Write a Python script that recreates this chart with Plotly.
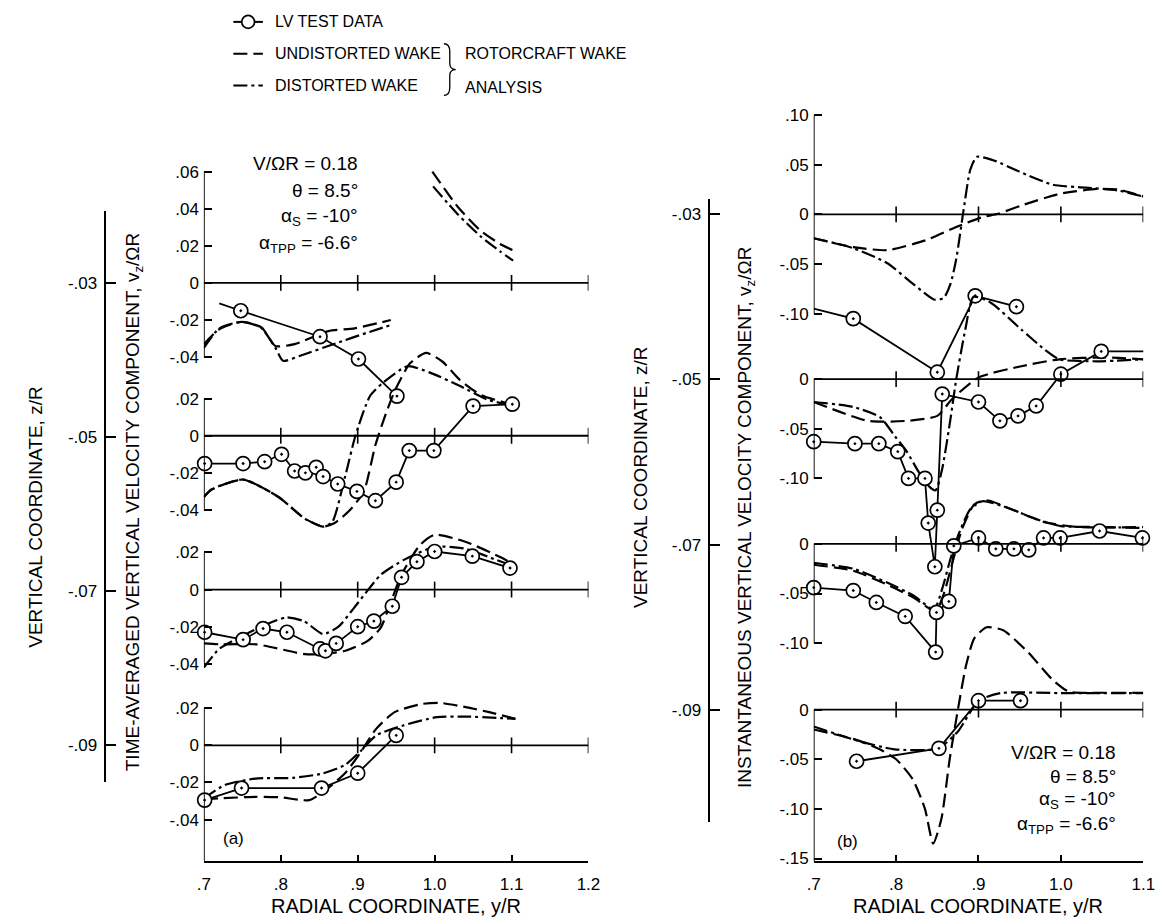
import plotly.graph_objects as go

W, H = 1163, 924
FONT = "Liberation Sans"
BLACK = "black"

# ------------------------------------------------------------------ DATA
# Panel (a): time-averaged vz/OmegaR at four planes z/R
a_planes = [-0.03, -0.05, -0.07, -0.09]
a_xticks = [0.7, 0.8, 0.9, 1.0, 1.1, 1.2]
a_xticktext = [".7", ".8", ".9", "1.0", "1.1", "1.2"]

# z/R = -0.03
a1_lv_lead_x = [0.72]
a1_lv_lead_y = [-0.011]
a1_lv_x = [0.748, 0.851, 0.901, 0.951]
a1_lv_y = [-0.015, -0.029, -0.041, -0.061]
a1_und_x = [0.70, 0.72, 0.749, 0.775, 0.793, 0.818, 0.862, 0.896, 0.943]
a1_und_y = [-0.033, -0.025, -0.021, -0.024, -0.034, -0.033, -0.026, -0.0245, -0.020]
a1_dis_x = [0.70, 0.72, 0.749, 0.774, 0.793, 0.803, 0.827, 0.872, 0.911, 0.943]
a1_dis_y = [-0.035, -0.0245, -0.021, -0.024, -0.035, -0.042, -0.039, -0.0325, -0.027, -0.0227]
a1_und_hi_x = [0.997, 1.03, 1.06, 1.085, 1.105]
a1_und_hi_y = [0.060, 0.041, 0.028, 0.021, 0.017]
a1_dis_hi_x = [0.998, 1.03, 1.06, 1.085, 1.102]
a1_dis_hi_y = [0.052, 0.037, 0.025, 0.017, 0.012]

# z/R = -0.05
a2_lv_x = [0.701, 0.751, 0.779, 0.801, 0.818, 0.832, 0.846, 0.855, 0.874, 0.899,
           0.923, 0.950, 0.967, 0.999, 1.050, 1.101]
a2_lv_y = [-0.015, -0.015, -0.014, -0.010, -0.019, -0.020, -0.017, -0.022, -0.026, -0.030,
           -0.035, -0.025, -0.008, -0.008, 0.016, 0.017]
a2_und_x = [0.70, 0.71, 0.751, 0.797, 0.831, 0.855, 0.87, 0.89, 0.908, 0.923, 0.935,
            0.948, 0.968, 0.989, 1.01, 1.033, 1.06, 1.09, 1.10]
a2_und_y = [-0.033, -0.029, -0.0236, -0.033, -0.0446, -0.049, -0.047, -0.040, -0.030,
            -0.005, 0.010, 0.024, 0.039, 0.0446, 0.040, 0.030, 0.022, 0.018, 0.017]
a2_dis_x = [0.70, 0.71, 0.751, 0.797, 0.831, 0.855, 0.867, 0.884, 0.897, 0.916, 0.933,
            0.965, 0.994, 1.033, 1.068, 1.092]
a2_dis_y = [-0.033, -0.029, -0.0236, -0.033, -0.0446, -0.049, -0.0464, -0.0214, 0.0,
            0.0214, 0.0286, 0.0375, 0.034, 0.0268, 0.0196, 0.017]

# z/R = -0.07
a3_lv_x = [0.701, 0.751, 0.777, 0.808, 0.851, 0.858, 0.872, 0.900, 0.921, 0.945, 0.957,
           0.977, 1.000, 1.049, 1.098]
a3_lv_y = [-0.023, -0.027, -0.021, -0.023, -0.032, -0.033, -0.029, -0.020, -0.017, -0.009,
           0.0066, 0.015, 0.0205, 0.018, 0.0116]
a3_und_x = [0.70, 0.72, 0.768, 0.831, 0.855, 0.884, 0.913, 0.93, 0.942, 0.957, 0.981,
            1.0, 1.039, 1.088, 1.103]
a3_und_y = [-0.029, -0.0295, -0.0295, -0.0348, -0.0348, -0.033, -0.0277, -0.0205, -0.008,
            0.008, 0.024, 0.0295, 0.0259, 0.017, 0.0134]
a3_dis_x = [0.70, 0.72, 0.75, 0.78, 0.807, 0.83, 0.855, 0.875, 0.895, 0.91, 0.93, 0.96,
            1.0, 1.04, 1.08, 1.10]
a3_dis_y = [-0.042, -0.032, -0.025, -0.019, -0.015, -0.017, -0.024, -0.020, -0.010, -0.002,
            0.008, 0.016, 0.023, 0.022, 0.016, 0.013]

# z/R = -0.09
a4_lv_x = [0.701, 0.749, 0.853, 0.900, 0.950]
a4_lv_y = [-0.0295, -0.023, -0.023, -0.015, 0.0054]
a4_und_x = [0.70, 0.719, 0.767, 0.80, 0.837, 0.861, 0.885, 0.904, 0.924, 0.948, 0.983,
            1.007, 1.042, 1.071, 1.105]
a4_und_y = [-0.029, -0.0286, -0.0277, -0.028, -0.0295, -0.0232, -0.0143, -0.0036, 0.0089,
            0.0179, 0.0223, 0.0229, 0.0205, 0.0179, 0.0143]
a4_dis_x = [0.70, 0.727, 0.767, 0.816, 0.854, 0.883, 0.904, 0.924, 0.959, 1.003, 1.042, 1.105]
a4_dis_y = [-0.0286, -0.0214, -0.0179, -0.0175, -0.0152, -0.0107, -0.003, 0.0054, 0.0107,
            0.0152, 0.0155, 0.0143]

# Panel (b): instantaneous vz/OmegaR at four planes z/R
b_planes = [-0.03, -0.05, -0.07, -0.09]
b_xticks = [0.7, 0.8, 0.9, 1.0, 1.1]
b_xticktext = [".7", ".8", ".9", "1.0", "1.1"]

# z/R = -0.03
b1_lv_lead_x = [0.70]
b1_lv_lead_y = [-0.095]
b1_lv_x = [0.748, 0.850, 0.896, 0.946]
b1_lv_y = [-0.105, -0.159, -0.082, -0.093]
b1_und_x = [0.70, 0.748, 0.789, 0.836, 0.873, 0.905, 0.924, 0.952, 0.998, 1.044, 1.07, 1.10]
b1_und_y = [-0.024, -0.033, -0.036, -0.026, -0.0127, -0.0027, 0.0007, 0.009, 0.0207,
            0.0257, 0.025, 0.018]
b1_dis_x = [0.70, 0.748, 0.789, 0.822, 0.847, 0.858, 0.866, 0.873, 0.882, 0.89, 0.898,
            0.92, 0.95, 0.99, 1.03, 1.07, 1.10]
b1_dis_y = [-0.024, -0.034, -0.049, -0.071, -0.086, -0.084, -0.07, -0.045, 0.005, 0.045,
            0.058, 0.054, 0.043, 0.030, 0.027, 0.024, 0.018]

# z/R = -0.05
b2_lv_x = [0.70, 0.750, 0.779, 0.802, 0.815, 0.835, 0.839, 0.847, 0.850, 0.856, 0.900,
           0.926, 0.948, 0.970, 1.000, 1.049, 1.101]
b2_lv_y = [-0.063, -0.065, -0.065, -0.073, -0.100, -0.100, -0.145, -0.189, -0.132, -0.015,
           -0.023, -0.042, -0.037, -0.027, 0.005, 0.028, 0.028]
b2_und_x = [0.70, 0.766, 0.813, 0.85, 0.868, 0.90, 0.952, 0.998, 1.054, 1.10]
b2_und_y = [-0.023, -0.042, -0.042, -0.037, -0.020, 0.0017, 0.013, 0.020, 0.022, 0.020]
b2_dis_x = [0.70, 0.748, 0.78, 0.799, 0.813, 0.827, 0.84, 0.848, 0.856, 0.866, 0.873,
            0.884, 0.894, 0.915, 0.952, 0.98, 0.998, 1.044, 1.10]
b2_dis_y = [-0.023, -0.028, -0.038, -0.058, -0.073, -0.093, -0.108, -0.112, -0.09, -0.04,
            0.0, 0.05, 0.083, 0.077, 0.05, 0.03, 0.02, 0.018, 0.02]

# z/R = -0.07
b3_lv_x = [0.70, 0.748, 0.776, 0.811, 0.848, 0.849, 0.864, 0.870, 0.900, 0.921, 0.943,
           0.961, 0.979, 0.999, 1.047, 1.099]
b3_lv_y = [-0.044, -0.047, -0.059, -0.073, -0.109, -0.069, -0.058, -0.002, 0.006, -0.005,
           -0.005, -0.006, 0.006, 0.006, 0.013, 0.006]
b3_und_x = [0.70, 0.748, 0.789, 0.821, 0.848, 0.858, 0.868, 0.88, 0.895, 0.91, 0.94,
            0.98, 1.02, 1.10]
b3_und_y = [-0.021, -0.027, -0.041, -0.054, -0.068, -0.05, -0.02, 0.015, 0.040, 0.044,
            0.035, 0.022, 0.017, 0.017]
b3_dis_x = [0.70, 0.748, 0.789, 0.821, 0.846, 0.856, 0.866, 0.876, 0.89, 0.905, 0.93,
            0.97, 1.0, 1.05, 1.10]
b3_dis_y = [-0.019, -0.025, -0.039, -0.052, -0.066, -0.045, -0.015, 0.01, 0.035, 0.043,
            0.038, 0.025, 0.018, 0.017, 0.016]

# z/R = -0.09
b4_lv_x = [0.752, 0.852, 0.900, 0.951]
b4_lv_y = [-0.052, -0.039, 0.009, 0.009]
b4_und_x = [0.70, 0.75, 0.78, 0.80, 0.82, 0.835, 0.845, 0.855, 0.865, 0.875, 0.885, 0.895,
            0.91, 0.93, 0.96, 0.99, 1.01, 1.05, 1.10]
b4_und_y = [-0.020, -0.030, -0.040, -0.050, -0.070, -0.100, -0.135, -0.110, -0.050, 0.000,
            0.045, 0.072, 0.083, 0.080, 0.058, 0.030, 0.018, 0.017, 0.017]
b4_dis_x = [0.70, 0.748, 0.798, 0.851, 0.875, 0.90, 0.927, 1.0, 1.10]
b4_dis_y = [-0.017, -0.030, -0.040, -0.039, -0.022, 0.009, 0.0167, 0.0167, 0.0167]

# ------------------------------------------------------------------ LAYOUT GEOMETRY (pixels)
A_X0, A_X1 = 192, 583          # x = 0.7 .. 1.2
B_X0, B_X1 = 812, 1147         # x = 0.7 .. 1.1
BOTTOM = 860
A_TOP, B_TOP = 140, 95
A_SCALE, B_SCALE = 1870.0, 1000.0   # px per unit of vz/OmegaR
A_BASE = [277, 431, 586, 743]
B_BASE = [208, 374, 540, 707]


def fx(px):
    return px / W


def fy(py):
    return 1 - py / H


def fmt(v):
    if abs(v) < 1e-12:
        return "0"
    s = f"{v:.2f}"
    return s.replace("0.", ".", 1)


tfont = dict(family=FONT, size=17, color=BLACK)
fig = go.Figure()

UND = dict(color=BLACK, width=2.2, dash="14px,6px", shape="spline", smoothing=0.6)
DIS = dict(color=BLACK, width=2.2, dash="14px,4px,3px,4px", shape="spline", smoothing=0.6)
LVL = dict(color=BLACK, width=1.8)
MK = dict(symbol="circle-dot", size=14, color="white", line=dict(color=BLACK, width=1.7))


def add_level(xa, ya, und, dis, lv_x, lv_y, lead=None):
    for sx, sy in und:
        fig.add_trace(go.Scatter(x=sx, y=sy, mode="lines", line=UND, xaxis=xa, yaxis=ya,
                                 showlegend=False, hoverinfo="skip"))
    for sx, sy in dis:
        fig.add_trace(go.Scatter(x=sx, y=sy, mode="lines", line=DIS, xaxis=xa, yaxis=ya,
                                 showlegend=False, hoverinfo="skip"))
    lx, ly = list(lv_x), list(lv_y)
    if lead:
        lx = list(lead[0]) + lx
        ly = list(lead[1]) + ly
    fig.add_trace(go.Scatter(x=lx, y=ly, mode="lines", line=LVL, xaxis=xa, yaxis=ya,
                             showlegend=False, hoverinfo="skip"))
    fig.add_trace(go.Scatter(x=lv_x, y=lv_y, mode="markers", marker=MK, xaxis=xa, yaxis=ya,
                             cliponaxis=False, showlegend=False, hoverinfo="skip"))


# panel (a): axes y2,y3,y4 (levels 1-3) overlay y (level 4)
a_yax = ["y2", "y3", "y4", "y"]
b_yax = ["y6", "y7", "y8", "y5"]

add_level("x", a_yax[0], [(a1_und_x, a1_und_y), (a1_und_hi_x, a1_und_hi_y)],
          [(a1_dis_x, a1_dis_y), (a1_dis_hi_x, a1_dis_hi_y)], a1_lv_x, a1_lv_y,
          lead=(a1_lv_lead_x, a1_lv_lead_y))
add_level("x", a_yax[1], [(a2_und_x, a2_und_y)], [(a2_dis_x, a2_dis_y)], a2_lv_x, a2_lv_y)
add_level("x", a_yax[2], [(a3_und_x, a3_und_y)], [(a3_dis_x, a3_dis_y)], a3_lv_x, a3_lv_y)
add_level("x", a_yax[3], [(a4_und_x, a4_und_y)], [(a4_dis_x, a4_dis_y)], a4_lv_x, a4_lv_y)

add_level("x2", b_yax[0], [(b1_und_x, b1_und_y)], [(b1_dis_x, b1_dis_y)], b1_lv_x, b1_lv_y,
          lead=(b1_lv_lead_x, b1_lv_lead_y))
add_level("x2", b_yax[1], [(b2_und_x, b2_und_y)], [(b2_dis_x, b2_dis_y)], b2_lv_x, b2_lv_y)
add_level("x2", b_yax[2], [(b3_und_x, b3_und_y)], [(b3_dis_x, b3_dis_y)], b3_lv_x, b3_lv_y)
add_level("x2", b_yax[3], [(b4_und_x, b4_und_y)], [(b4_dis_x, b4_dis_y)], b4_lv_x, b4_lv_y)

# empty traces to bring the z/R axes to life
fig.add_trace(go.Scatter(x=[None], y=[None], xaxis="x", yaxis="y9", showlegend=False))
fig.add_trace(go.Scatter(x=[None], y=[None], xaxis="x2", yaxis="y10", showlegend=False))

layout = dict(width=W, height=H, margin=dict(l=0, r=0, t=0, b=0),
              paper_bgcolor="white", plot_bgcolor="rgba(0,0,0,0)",
              font=dict(family=FONT, color=BLACK), showlegend=False)


def xaxis_cfg(x0, x1, xmax, ticks, ticktext, anchor):
    return dict(domain=[fx(x0), fx(x1)], range=[0.7, xmax], anchor=anchor,
                showline=True, linecolor=BLACK, linewidth=1.8, ticks="inside", ticklen=7,
                tickwidth=1.6, tickcolor=BLACK, tickvals=ticks, ticktext=ticktext,
                tickfont=tfont, showgrid=False, zeroline=False, ticklabelstandoff=6,
                fixedrange=True)


layout["xaxis"] = xaxis_cfg(A_X0, A_X1, 1.2, a_xticks, a_xticktext, "y")
layout["xaxis2"] = xaxis_cfg(B_X0, B_X1, 1.1, b_xticks, b_xticktext, "y5")

a_tickvals = [[0.06, 0.04, 0.02, 0, -0.02, -0.04], [0.02, 0, -0.02, -0.04],
              [0.02, 0, -0.02, -0.04], [0.02, 0, -0.02, -0.04]]
b_tickvals = [[0.10, 0.05, 0, -0.05, -0.10], [0, -0.05, -0.10], [0, -0.05, -0.10],
              [0, -0.05, -0.10, -0.15]]


def yname(a):
    return "yaxis" + a[1:]


shapes = []
for (yax, bases, scale, top, tvals, xa, xmax, xticks) in [
        (a_yax, A_BASE, A_SCALE, A_TOP, a_tickvals, "x", 1.2, a_xticks),
        (b_yax, B_BASE, B_SCALE, B_TOP, b_tickvals, "x2", 1.1, b_xticks)]:
    base_axis = yax[3]
    for i, (ya, b) in enumerate(zip(yax, bases)):
        rng = [(b - BOTTOM) / scale, (b - top) / scale]
        cfg = dict(range=rng, anchor=xa, showline=False, ticks="inside", ticklen=8,
                   tickwidth=1.6, tickcolor=BLACK, tickvals=tvals[i],
                   ticktext=[fmt(v) for v in tvals[i]], tickfont=tfont, showgrid=False,
                   zeroline=False, ticklabelstandoff=4, fixedrange=True)
        if ya == base_axis:
            cfg["domain"] = [fy(BOTTOM), fy(top)]
        else:
            cfg["overlaying"] = base_axis
        layout[yname(ya)] = cfg
        # local vz axis segment
        seg_lo = min(tvals[i]) if i < 3 else rng[0]
        seg_hi = max(tvals[i])
        shapes.append(dict(type="line", xref=xa, yref=ya, x0=0.7, x1=0.7, y0=seg_lo,
                           y1=seg_hi, line=dict(color=BLACK, width=1.8)))
        # zero line with crossing ticks
        shapes.append(dict(type="line", xref=xa, yref=ya, x0=0.7, x1=xmax, y0=0, y1=0,
                           line=dict(color=BLACK, width=1.8)))
        d = 8.0 / scale
        for xt in xticks[1:]:
            shapes.append(dict(type="line", xref=xa, yref=ya, x0=xt, x1=xt, y0=-d, y1=d,
                               line=dict(color=BLACK, width=1.6)))


# z/R axes
def z_axis(top_px, bot_px, base0, base3, pos_px, planes):
    per = (planes[0] - planes[3]) / (base3 - base0)
    zhi = planes[0] + (base0 - top_px) * per
    zlo = planes[0] - (bot_px - base0) * per
    return dict(domain=[fy(bot_px), fy(top_px)], range=[zlo, zhi], anchor="free",
                position=fx(pos_px), side="left", showline=True, linecolor=BLACK,
                linewidth=1.8, ticks="inside", ticklen=10, tickwidth=1.6, tickcolor=BLACK,
                tickvals=planes, ticktext=[fmt(v) for v in planes], tickfont=tfont,
                showgrid=False, zeroline=False, ticklabelstandoff=4, fixedrange=True)


layout["yaxis9"] = z_axis(205, 780, A_BASE[0], A_BASE[3], 92, a_planes)
layout["yaxis10"] = z_axis(192, 820, B_BASE[0], B_BASE[3], 706, b_planes)

# legend (drawn)
LEG_X0, LEG_X1 = 222, 252
for yy, dash in [(14, "solid"), (46, "14px,6px"), (78, "14px,4px,3px,4px")]:
    shapes.append(dict(type="line", xref="paper", yref="paper", x0=fx(LEG_X0), x1=fx(LEG_X1),
                       y0=fy(yy), y1=fy(yy), line=dict(color=BLACK, width=2, dash=dash)))
shapes.append(dict(type="circle", xref="paper", yref="paper", x0=fx(230.5), x1=fx(243.5),
                   y0=fy(20.5), y1=fy(7.5), fillcolor="white", line=dict(color=BLACK, width=1.7)))
pts = [(436, 36), (442, 36), (442, 44), (442, 56), (442, 62), (448, 62), (442, 62),
       (442, 68), (442, 80), (442, 88), (436, 88)]
P = [f"{fx(px):.5f},{fy(py):.5f}" for px, py in pts]
brace = (f"M {P[0]} Q {P[1]} {P[2]} L {P[3]} Q {P[4]} {P[5]} Q {P[6]} {P[7]} "
         f"L {P[8]} Q {P[9]} {P[10]}")
shapes.append(dict(type="path", xref="paper", yref="paper", path=brace,
                   line=dict(color=BLACK, width=1.3)))
layout["shapes"] = shapes

ann = []


def note(text, x, y, xanchor="center", angle=0, size=16):
    ann.append(dict(text=text, x=fx(x), y=fy(y), xref="paper", yref="paper",
                    xanchor=xanchor, yanchor="middle", textangle=angle, showarrow=False,
                    font=dict(family=FONT, size=size, color=BLACK)))


note("LV TEST DATA", 262, 14, "left", size=16)
note("UNDISTORTED WAKE", 262, 46, "left", size=16)
note("DISTORTED WAKE", 262, 78, "left", size=16)
note("ROTORCRAFT WAKE", 455, 46, "left", size=16)
note("ANALYSIS", 455, 80, "left", size=16)

note("VERTICAL COORDINATE, z/R", 20, 513, angle=-90, size=19)
note("TIME-AVERAGED VERTICAL VELOCITY COMPONENT, v<sub>z</sub>/ΩR", 121, 498, angle=-90, size=19)
note("VERTICAL COORDINATE, z/R", 636, 473, angle=-90, size=19)
note("INSTANTANEOUS VERTICAL VELOCITY COMPONENT, v<sub>z</sub>/ΩR", 743, 513, angle=-90, size=19)
note("RADIAL COORDINATE, y/R", (A_X0 + A_X1) / 2, 905, size=20)
note("RADIAL COORDINATE, y/R", (B_X0 + B_X1) / 2, 905, size=20)

for x_r, ys in [(351, [157, 184, 211, 238]), (1121, [750, 774, 798, 823])]:
    note("V/ΩR = 0.18", x_r, ys[0], "right", size=19)
    note("θ = 8.5°", x_r, ys[1], "right", size=19)
    note("α<sub>S</sub> = -10°", x_r, ys[2], "right", size=19)
    note("α<sub>TPP</sub> = -6.6°", x_r, ys[3], "right", size=19)
note("(a)", 222, 837, size=17)
note("(b)", 846, 840, size=17)
layout["annotations"] = ann

fig.update_layout(**layout)
fig.write_html("out.html")
